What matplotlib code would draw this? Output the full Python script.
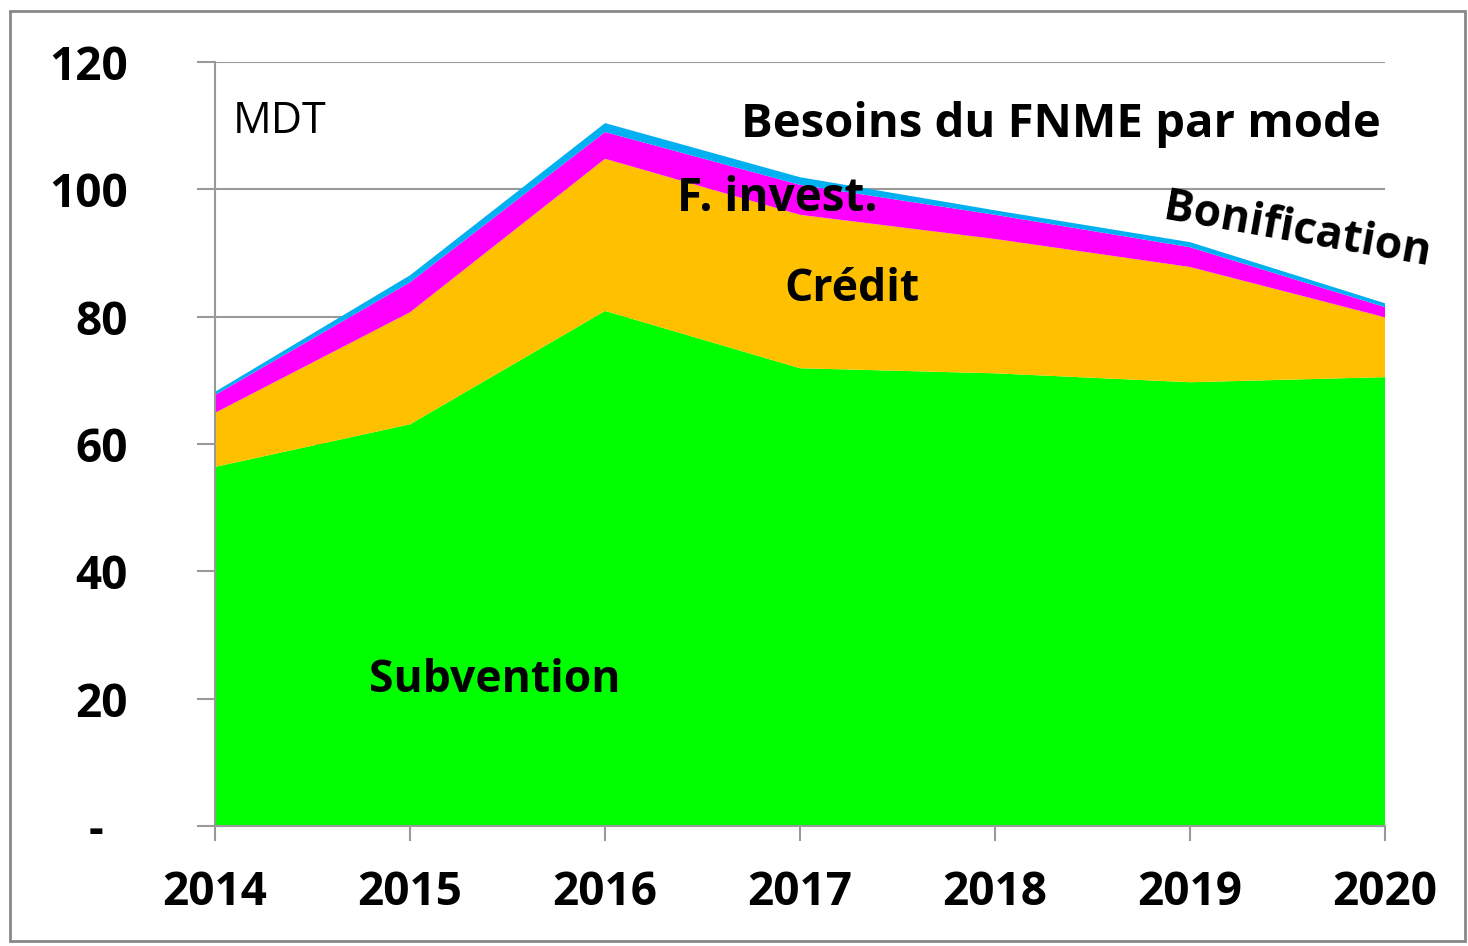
import matplotlib.pyplot as plt
from matplotlib.patches import Rectangle

# data (MDT)
years = [2014, 2015, 2016, 2017, 2018, 2019, 2020]
subvention = [56.4, 63.1, 80.9, 71.9, 71.1, 69.7, 70.5]
credit = [8.5, 17.6, 23.9, 24.1, 21.1, 18.1, 9.4]
f_invest = [2.8, 4.7, 4.2, 4.7, 3.8, 3.1, 1.6]
bonification = [0.5, 1.1, 1.4, 1.2, 0.7, 0.8, 0.6]
y_ticks = [0, 20, 40, 60, 80, 100, 120]
y_labels = ["-  ", "20", "40", "60", "80", "100", "120"]

plt.rcParams['font.family'] = ['Open Sans', 'DejaVu Sans']

fig = plt.figure(figsize=(14.68, 9.46), dpi=100)
ax = fig.add_axes([0.1465, 0.1268, 0.797, 0.8077])

ax.stackplot(years, subvention, credit, f_invest, bonification,
             colors=["#00FF00", "#FFC000", "#FF00FF", "#00B0F0"],
             linewidth=0, zorder=2)

ax.set_xlim(2014, 2020)
ax.set_ylim(0, 120)
ax.set_xticks(years)
ax.set_yticks(y_ticks)
ax.set_yticklabels(y_labels)
ax.yaxis.grid(True, color="#999999", linewidth=1.5, zorder=0)
ax.set_axisbelow(True)

for s in ["top", "right"]:
    ax.spines[s].set_visible(False)
for s in ["left", "bottom"]:
    ax.spines[s].set_color("#999999")
    ax.spines[s].set_linewidth(1.5)
    ax.spines[s].set_zorder(3)

ax.tick_params(axis="y", direction="out", length=13, width=1.5, color="#999999",
               pad=50, labelsize=33)
ax.tick_params(axis="x", direction="out", length=11, width=1.5, color="#999999",
               pad=20, labelsize=33)
for lbl in ax.get_xticklabels() + ax.get_yticklabels():
    lbl.set_fontweight("bold")

ax.text(2014.09, 110.6, "MDT", fontsize=31, va="center", ha="left")
ax.text(2019.98, 110.1, "Besoins du FNME par mode", fontsize=34, fontweight="bold",
        va="center", ha="right")
ax.text(2016.37, 98.6, "F. invest.", fontsize=33, fontweight="bold", va="center", ha="left")
ax.text(2016.92, 84.2, "Crédit", fontsize=32, fontweight="bold", va="center", ha="left")
ax.text(2014.79, 22.9, "Subvention", fontsize=32, fontweight="bold", va="center", ha="left")
ax.text(2019.55, 93.4, "Bonification", fontsize=32, fontweight="bold", va="center",
        ha="center", rotation=-10)

# outer chart border
fig.patches.append(Rectangle((0.007, 0.005), 0.991, 0.983, transform=fig.transFigure,
                             fill=False, edgecolor="#888888", linewidth=2))

fig.savefig("out.png", dpi=100)
